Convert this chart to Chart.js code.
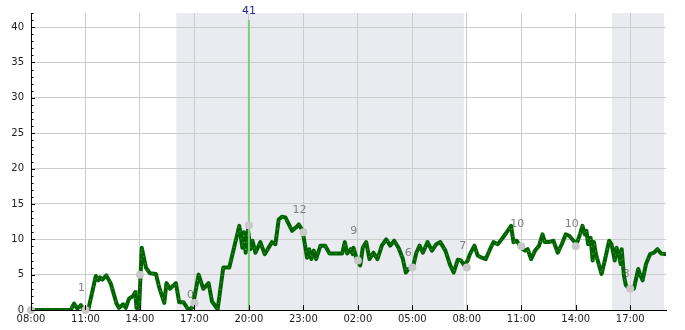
<!doctype html>
<html>
<head>
<title>Line with night shading</title>
<script src="https://cdn.jsdelivr.net/npm/chart.js@4.4.0/dist/chart.umd.min.js"></script>
<style>
  html, body { margin: 0; padding: 0; background: #fff; }
  #wrap { width: 685px; height: 330px; }
</style>
</head>
<body>
<div id="wrap"><canvas id="canvas"></canvas></div>
<script>
// hours since 08:00 on day one
var hours = [0, 0.16, 2.19, 2.37, 2.55, 2.74, 2.92, 3.16, 3.57, 3.71, 3.8, 3.93, 4.15, 4.4, 4.71, 4.85, 5.07, 5.22, 5.4, 5.63, 5.74, 5.81, 5.95,
  6.1, 6.33, 6.55, 6.88, 7.06, 7.34, 7.46, 7.65, 7.98, 8.16, 8.4, 8.68, 8.9, 9.23, 9.49, 9.78, 9.97, 10.28, 10.59, 10.92, 11.47,
  11.64, 11.72, 11.82, 11.95, 12.08, 12.2, 12.36, 12.63, 12.87, 13.27, 13.46, 13.64, 13.83, 14.01, 14.38, 14.6, 14.75, 14.96,
  15.2, 15.32, 15.44, 15.57, 15.7, 15.94, 16.2, 16.44, 17.14, 17.28, 17.41, 17.6, 17.72, 17.76, 17.94, 18.13, 18.27, 18.46,
  18.64, 18.86, 19.08, 19.32, 19.56, 19.78, 20.0, 20.24, 20.48, 20.64, 20.79, 21.03, 21.22, 21.4, 21.58, 21.84, 22.08, 22.32,
  22.54, 22.82, 23.09, 23.28, 23.5, 23.68, 23.86, 24.05, 24.17, 24.42, 24.6, 24.82, 25.04, 25.28, 25.47, 25.7, 25.92, 26.2,
  26.44, 26.57, 26.75, 26.99, 27.21, 27.35, 27.54, 27.76, 27.98, 28.17, 28.3, 28.53, 28.77, 29.01, 29.23, 29.45, 29.64, 29.88,
  30.04, 30.23, 30.37, 30.5, 30.59, 30.68, 30.82, 30.93, 31.0, 31.11, 31.42, 31.6, 31.84, 31.97, 32.15, 32.25, 32.39, 32.47,
  32.53, 32.65, 32.76, 32.98, 33.2, 33.44, 33.56, 33.68, 33.87, 34.09, 34.31, 34.5, 34.7, 34.92];
var values = [0, 0, 0, 0.9, 0.2, 0.7, 0, 0.1, 4.8, 4.2, 4.6, 4.3, 4.9, 3.7, 0.9, 0.3, 0.8, 0.3, 1.6, 2.0, 2.5, 0.3, 0,
  8.8, 6.0, 5.2, 5.1, 3.2, 1.0, 3.8, 3.0, 3.8, 1.1, 1.1, 0, 0.4, 5.0, 3.0, 3.8, 1.2, 0.1, 6.0, 6.0, 11.9,
  8.8, 11.0, 8.1, 11.4, 8.6, 9.8, 8.1, 9.6, 7.9, 9.6, 9.3, 12.8, 13.2, 13.1, 11.2, 11.7, 12.1, 11.2,
  7.4, 8.6, 7.2, 8.4, 7.2, 9.1, 9.1, 8.0, 8.0, 9.6, 8.0, 8.6, 7.9, 8.8, 7.2, 6.3, 8.8, 9.6,
  7.2, 8.1, 7.2, 9.1, 10.0, 9.1, 9.8, 8.8, 7.2, 5.3, 5.8, 6.0, 8.1, 9.1, 8.1, 9.6, 8.4, 9.3,
  9.6, 8.4, 6.3, 5.3, 7.1, 7.0, 6.3, 7.0, 7.9, 9.1, 7.7, 7.4, 7.2, 8.6, 9.6, 9.3, 10.0, 11.0,
  11.9, 9.6, 9.8, 8.8, 8.4, 8.6, 7.2, 8.4, 9.1, 10.7, 9.6, 9.6, 9.8, 8.1, 9.3, 10.7, 10.5, 9.8,
  9.3, 10.7, 11.9, 10.7, 11.2, 9.3, 10.2, 7.0, 9.6, 7.9, 5.1, 7.0, 9.8, 9.3, 7.0, 8.8, 7.7, 6.5,
  8.6, 4.9, 3.5, 2.9, 3.0, 5.8, 4.9, 4.2, 6.5, 7.9, 8.1, 8.6, 8.0, 7.9];

// three-hourly markers and their labels
var markHours = [0, 3, 6, 9, 12, 15, 18, 21, 24, 27, 30, 33];
var markValues = [0, 0, 5, 1, 12, 11, 7, 6, 6, 9, 9, 3];
var markLabels = [null, 1, 0, 0, 8, 12, 9, 6, 7, 10, 10, 3];

// peak marker
var peakHour = 12;
var peakValue = 41;

// shaded spans (hours)
var shadeStarts = [8, 32];
var shadeEnds = [23.84, 34.86];

var xMin = 0, xMax = 34.97;
var yMin = 0, yMax = 42;

function hourLabel(h) {
  var hh = (8 + Math.round(h)) % 24;
  return (hh < 10 ? '0' : '') + hh + ':00';
}

var extras = {
  id: 'extras',
  beforeDraw: function(chart) {
    var ctx = chart.ctx, a = chart.chartArea, x = chart.scales.x;
    ctx.save();
    ctx.fillStyle = '#eaebf1';
    for (var i = 0; i < shadeStarts.length; i++) {
      var x0 = x.getPixelForValue(shadeStarts[i]);
      var x1 = x.getPixelForValue(shadeEnds[i]);
      ctx.fillRect(x0, a.top, x1 - x0, a.bottom - a.top);
    }
    ctx.restore();
  },
  beforeDatasetsDraw: function(chart) {
    var ctx = chart.ctx, x = chart.scales.x, y = chart.scales.y;
    ctx.save();
    ctx.font = '11px "DejaVu Sans"';
    ctx.fillStyle = '#808080';
    ctx.textAlign = 'center';
    ctx.textBaseline = 'middle';
    for (var i = 0; i < markHours.length; i++) {
      if (markLabels[i] === null) continue;
      ctx.fillText(String(markLabels[i]), x.getPixelForValue(markHours[i]) - 4, y.getPixelForValue(markLabels[i] + 2.1));
    }
    ctx.restore();
  },
  afterDraw: function(chart) {
    var ctx = chart.ctx, a = chart.chartArea, x = chart.scales.x, y = chart.scales.y;
    ctx.save();
    ctx.strokeStyle = '#000';
    ctx.lineWidth = 1;
    ctx.beginPath();
    y.ticks.forEach(function(t) {
      var py = Math.round(y.getPixelForValue(t.value)) + 0.5;
      var len = t.value % 5 === 0 ? 4 : 2.5;
      ctx.moveTo(a.left, py);
      ctx.lineTo(a.left + len, py);
    });
    x.ticks.forEach(function(t) {
      var px = Math.round(x.getPixelForValue(t.value)) + 0.5;
      ctx.moveTo(px, a.bottom);
      ctx.lineTo(px, a.bottom - 5);
    });
    ctx.stroke();
    ctx.font = '11px "DejaVu Sans"';
    ctx.fillStyle = '#1f1f99';
    ctx.textAlign = 'center';
    ctx.textBaseline = 'bottom';
    ctx.fillText(String(peakValue), x.getPixelForValue(peakHour), y.getPixelForValue(peakValue) - 3);
    ctx.restore();
  }
};

var linePoints = hours.map(function(h, i) { return { x: h, y: values[i] }; });
var markPoints = markHours.map(function(h, i) { return { x: h, y: markValues[i] }; });

Chart.defaults.font.family = '"DejaVu Sans", sans-serif';
Chart.defaults.font.size = 10;
Chart.defaults.color = '#222';

var config = {
  type: 'line',
  data: {
    datasets: [{
      label: 'marks',
      data: markPoints,
      showLine: false,
      pointRadius: 4,
      pointBackgroundColor: '#c8c8c8',
      pointBorderWidth: 0,
      clip: false
    }, {
      label: 'peak',
      data: [{ x: peakHour, y: 0 }, { x: peakHour, y: peakValue }],
      borderColor: '#7fce7f',
      borderWidth: 2,
      pointRadius: 0
    }, {
      label: 'texture',
      data: linePoints,
      borderColor: 'rgba(255,255,255,0.4)',
      borderWidth: 1,
      borderDash: [1, 6],
      borderJoinStyle: 'round',
      pointRadius: 0
    }, {
      label: 'value',
      data: linePoints,
      borderColor: '#006400',
      borderWidth: 4,
      borderJoinStyle: 'round',
      borderCapStyle: 'round',
      pointRadius: 0
    }]
  },
  options: {
    responsive: true,
    maintainAspectRatio: false,
    animation: false,
    layout: { padding: { left: 0, right: 19, top: 10, bottom: 0 } },
    elements: { line: { tension: 0 } },
    plugins: { legend: { display: false }, tooltip: { enabled: false } },
    scales: {
      x: {
        type: 'linear',
        min: xMin,
        max: xMax,
        afterFit: function(s) { s.height = 20; },
        border: { color: '#000', width: 1 },
        grid: { color: '#cccccc', drawTicks: false },
        ticks: {
          stepSize: 3,
          includeBounds: false,
          autoSkip: false,
          maxRotation: 0,
          padding: 3,
          color: '#222',
          callback: function(v) { return hourLabel(v); }
        }
      },
      y: {
        min: yMin,
        max: yMax,
        afterFit: function(s) { s.width = 31; },
        border: { color: '#000', width: 1 },
        grid: {
          drawTicks: false,
          color: function(c) { return c.tick && c.tick.value % 5 === 0 ? '#cccccc' : 'rgba(0,0,0,0)'; }
        },
        ticks: {
          stepSize: 1,
          autoSkip: false,
          includeBounds: false,
          padding: 7,
          color: '#222',
          callback: function(v) { return v % 5 === 0 ? v : ''; }
        }
      }
    }
  },
  plugins: [extras]
};

window.onload = function() {
  window.myChart = new Chart(document.getElementById('canvas'), config);
};
</script>
</body>
</html>
